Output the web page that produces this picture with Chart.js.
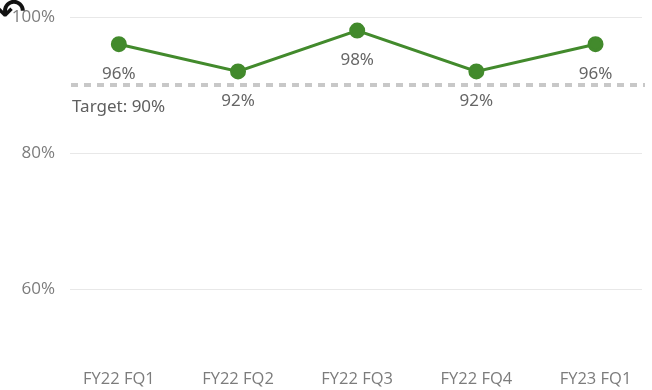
<!DOCTYPE html>
<html lang="en">
<head>
    <meta charset="UTF-8">
    <title>Quarterly Score vs Target</title>
    <script src="https://cdn.jsdelivr.net/npm/chart.js"></script>
    <style>
        html, body {
            margin: 0;
            padding: 0;
            background: white;
        }
        .wrap {
            position: relative;
            width: 652px;
            height: 390px;
        }
        canvas {
            display: block;
        }
        .drill-up {
            position: absolute;
            left: -3px;
            top: -6px;
            font-family: "DejaVu Sans", sans-serif;
            font-size: 34px;
            line-height: 34px;
            font-weight: bold;
            color: #111;
            z-index: 2;
        }
    </style>
</head>
<body>
    <div class="wrap">
        <span class="drill-up">↶</span>
        <canvas id="grafico" width="652" height="390"></canvas>
    </div>

    <script>
        const quarters = ["FY22 FQ1", "FY22 FQ2", "FY22 FQ3", "FY22 FQ4", "FY23 FQ1"];
        const scores = [96, 92, 98, 92, 96];
        const target = 90;
        const targetLabel = "Target: 90%";
        const yTicks = [60, 80, 100];

        const green = "#428a2c";
        const grey = "#7c7c7c";

        // target line, its caption and the value labels under each point
        const labelsPlugin = {
            id: "labelsPlugin",
            beforeDatasetsDraw(chart) {
                const { ctx, chartArea, scales } = chart;
                const y = scales.y.getPixelForValue(target);
                ctx.save();
                ctx.strokeStyle = "#c8c8c8";
                ctx.lineWidth = 4;
                ctx.setLineDash([7, 6]);
                ctx.beginPath();
                ctx.moveTo(chartArea.left + 1, y);
                ctx.lineTo(chartArea.right + 3, y);
                ctx.stroke();
                ctx.setLineDash([]);
                ctx.fillStyle = "#5f5f5f";
                ctx.font = "17px 'Noto Sans', sans-serif";
                ctx.textAlign = "left";
                ctx.textBaseline = "middle";
                ctx.fillText(targetLabel, chartArea.left + 2, y + 22);
                ctx.restore();
            },
            afterDatasetsDraw(chart) {
                const { ctx } = chart;
                const meta = chart.getDatasetMeta(0);
                ctx.save();
                ctx.fillStyle = "#666";
                ctx.font = "17px 'Noto Sans', sans-serif";
                ctx.textAlign = "center";
                ctx.textBaseline = "middle";
                meta.data.forEach((pt, i) => {
                    ctx.fillText(scores[i] + "%", pt.x, pt.y + 30);
                });
                ctx.restore();
            }
        };

        const ctx = document.getElementById("grafico").getContext("2d");
        new Chart(ctx, {
            type: "line",
            data: {
                datasets: [{
                    data: scores.map((v, i) => ({ x: i, y: v })),
                    borderColor: green,
                    backgroundColor: green,
                    borderWidth: 3,
                    pointRadius: 6.5,
                    pointHoverRadius: 6.5,
                    tension: 0,
                    clip: false
                }]
            },
            options: {
                responsive: false,
                animation: false,
                layout: {
                    padding: { top: 17, right: 10, bottom: 1, left: 0 }
                },
                plugins: {
                    legend: { display: false },
                    tooltip: { enabled: false }
                },
                scales: {
                    x: {
                        type: "linear",
                        min: -0.41,
                        max: 4.39,
                        grid: { display: false, drawTicks: false },
                        border: { display: false },
                        afterBuildTicks(scale) {
                            scale.ticks = quarters.map((_, i) => ({ value: i }));
                        },
                        afterFit(scale) {
                            scale.height = 32;
                        },
                        ticks: {
                            padding: 12,
                            maxRotation: 0,
                            autoSkip: false,
                            color: grey,
                            font: { family: "'Open Sans', sans-serif", size: 16.5 },
                            callback: v => quarters[v]
                        }
                    },
                    y: {
                        min: 50,
                        max: 100,
                        afterBuildTicks(scale) {
                            scale.ticks = yTicks.map(v => ({ value: v }));
                        },
                        afterFit(scale) {
                            scale.width = 70;
                            scale.paddingTop = 0;
                            scale.paddingBottom = 0;
                        },
                        grid: { color: "#e8e8e8", drawTicks: false },
                        border: { display: false },
                        ticks: {
                            padding: 15,
                            color: grey,
                            font: { family: "'Open Sans', sans-serif", size: 17 },
                            callback: v => v + "%"
                        }
                    }
                }
            },
            plugins: [labelsPlugin]
        });
    </script>
</body>
</html>
